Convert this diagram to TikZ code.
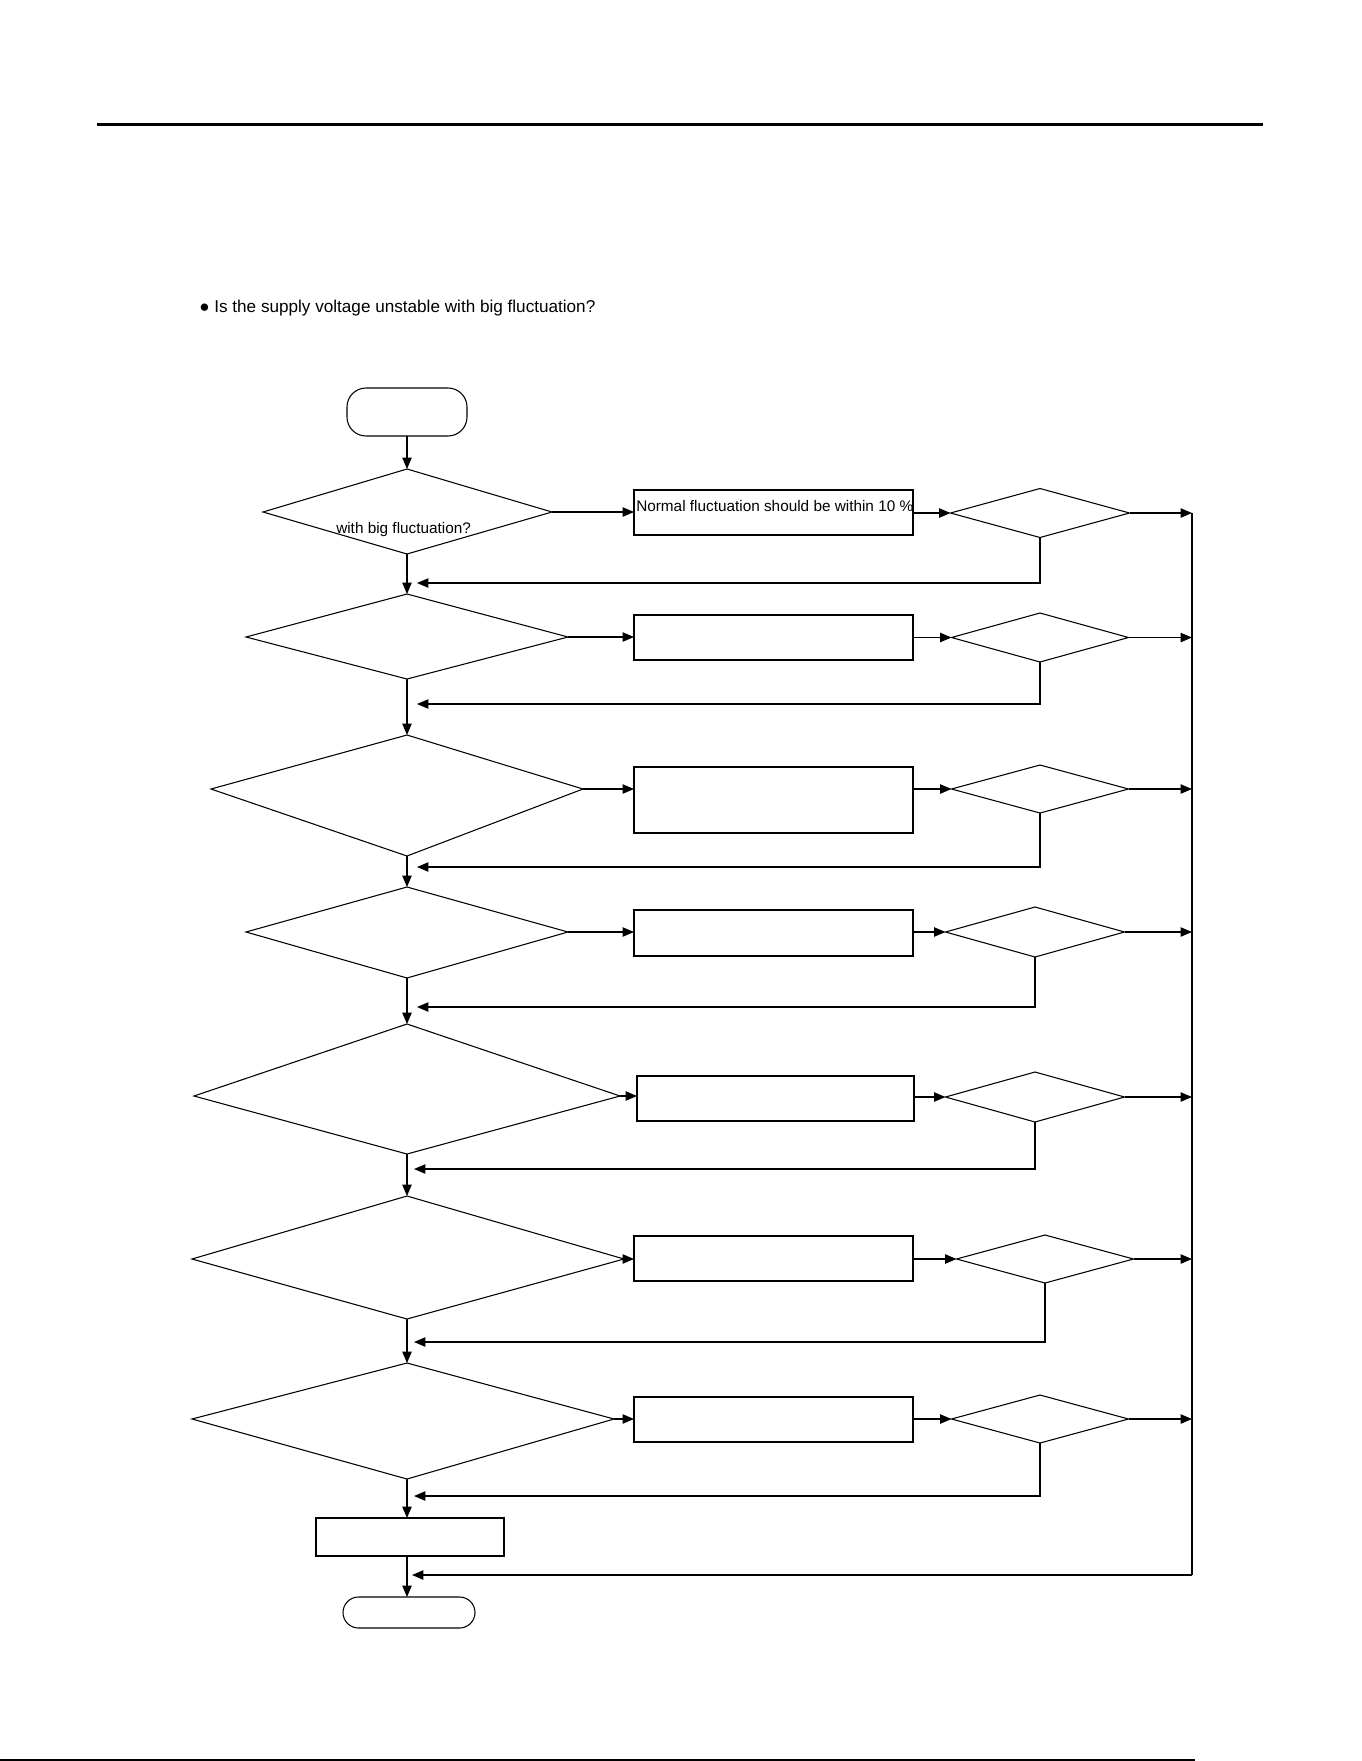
\documentclass[tikz,border=0pt]{standalone}
\usepackage{fontspec}
\setmainfont{Liberation Sans}
\usetikzlibrary{shapes.geometric,arrows.meta}
\newcommand\mykite[7]{%
  \coordinate (#1-n) at (#2,#3);
  \coordinate (#1-e) at (#7,#4);
  \coordinate (#1-s) at (#2,#5);
  \coordinate (#1-w) at (#6,#4);
  \draw[ln] (#1-n) -- (#1-e) -- (#1-s) -- (#1-w) -- cycle;}
\begin{document}
\begin{tikzpicture}[x=0.75pt,y=-0.75pt,
  ln/.style={line width=0.8pt},
  arr/.style={ln,-{Triangle[length=8.5pt,width=7pt]}},
  dia/.style 2 args={diamond,draw,ln,inner sep=0pt,outer sep=0pt,minimum width=#1*0.75pt,minimum height=#2*0.75pt},
  boxx/.style 2 args={rectangle,draw,ln,inner sep=0pt,outer sep=0pt,minimum width=#1*0.75pt,minimum height=#2*0.75pt},
  term/.style n args={3}{rectangle,draw,ln,inner sep=0pt,outer sep=0pt,rounded corners=#3*0.75pt,minimum width=#1*0.75pt,minimum height=#2*0.75pt},
  txt/.style={inner sep=0pt,anchor=base west,font=\fontsize{11.5}{13}\selectfont}
]
\useasboundingbox (0,0) rectangle (1361,1761);
% page rules
\draw[line width=1.9pt] (97,124.5) -- (1263,124.5);
\draw[line width=1.6pt] (0,1760) -- (1195,1760);
% heading
\node[inner sep=0pt,anchor=base west,font=\fontsize{12.85}{15}\selectfont] (head) at (199,312) {● Is the supply voltage unstable with big fluctuation?};

% start / end
\node[term={120}{48}{19}] (start) at (407,412) {};
% main decision shapes
\mykite{d1}{407}{469}{512}{554}{263}{552}
\node[txt] (t1) at (336,533) {with big fluctuation?};
\mykite{d2}{407}{594}{637}{679}{246}{568}
\mykite{d3}{407}{735}{789}{856}{211}{583}
\mykite{d4}{407}{887}{932}{978}{246}{568}
\mykite{d5}{407}{1024}{1096}{1154}{194}{620}
\mykite{d6}{407}{1196}{1259}{1319}{192}{624}
\mykite{d7}{407}{1363}{1419}{1479}{192}{614}
\node[boxx={188}{38}] (fin) at (410,1537) {};
\node[term={132}{31}{15.5}] (end) at (409,1612.5) {};

% boxes
\node[boxx={279}{45}] (b1) at (773.5,512.5) {};
\node[txt] (bt1) at (636,511) {Normal fluctuation should be within 10 \%};
\node[boxx={279}{45}] (b2) at (773.5,637.5) {};
\node[boxx={279}{66}] (b3) at (773.5,800) {};
\node[boxx={279}{46}] (b4) at (773.5,933) {};
\node[boxx={277}{45}] (b5) at (775.5,1098.5) {};
\node[boxx={279}{45}] (b6) at (773.5,1258.5) {};
\node[boxx={279}{45}] (b7) at (773.5,1419.5) {};

% small diamonds
\node[dia={179}{49}] (s1) at (1040,513) {};
\node[dia={177}{49}] (s2) at (1040,637.5) {};
\node[dia={177}{48}] (s3) at (1040,789) {};
\node[dia={179}{50}] (s4) at (1035,932) {};
\node[dia={179}{50}] (s5) at (1035,1097) {};
\node[dia={177}{48}] (s6) at (1045,1259) {};
\node[dia={177}{48}] (s7) at (1040,1419) {};

% right collector line
\coordinate (R) at (1192,513);
\coordinate (Rb) at (1192,1575);
\draw[ln] (R) -- (Rb);
\coordinate (rb) at (412,1575);
\draw[arr] (Rb) -- (rb);

% feedback targets
\coordinate (f1) at (417,583);
\coordinate (f2) at (417,704);
\coordinate (f3) at (417,867);
\coordinate (f4) at (417,1007);
\coordinate (f5) at (414,1169);
\coordinate (f6) at (414,1342);
\coordinate (f7) at (414,1496);

% main flow
\draw[arr] (start.south) -- (d1-n);
\draw[arr] (d1-s) -- (d2-n);
\draw[arr] (d2-s) -- (d3-n);
\draw[arr] (d3-s) -- (d4-n);
\draw[arr] (d4-s) -- (d5-n);
\draw[arr] (d5-s) -- (d6-n);
\draw[arr] (d6-s) -- (d7-n);
\draw[arr] (d7-s) -- (d7-s |- fin.north);
\draw[arr] (d7-s |- fin.south) -- (d7-s |- end.north);

% rows
\foreach \i in {1,...,7}{
  \draw[arr] (d\i-e) -- (d\i-e -| b\i.west);
  \draw[arr] (b\i.east |- s\i.west) -- (s\i.west);
  \draw[arr] (s\i.east) -- (s\i.east -| R);
  \draw[arr] (s\i.south) |- (f\i);
}
\end{tikzpicture}
\end{document}
